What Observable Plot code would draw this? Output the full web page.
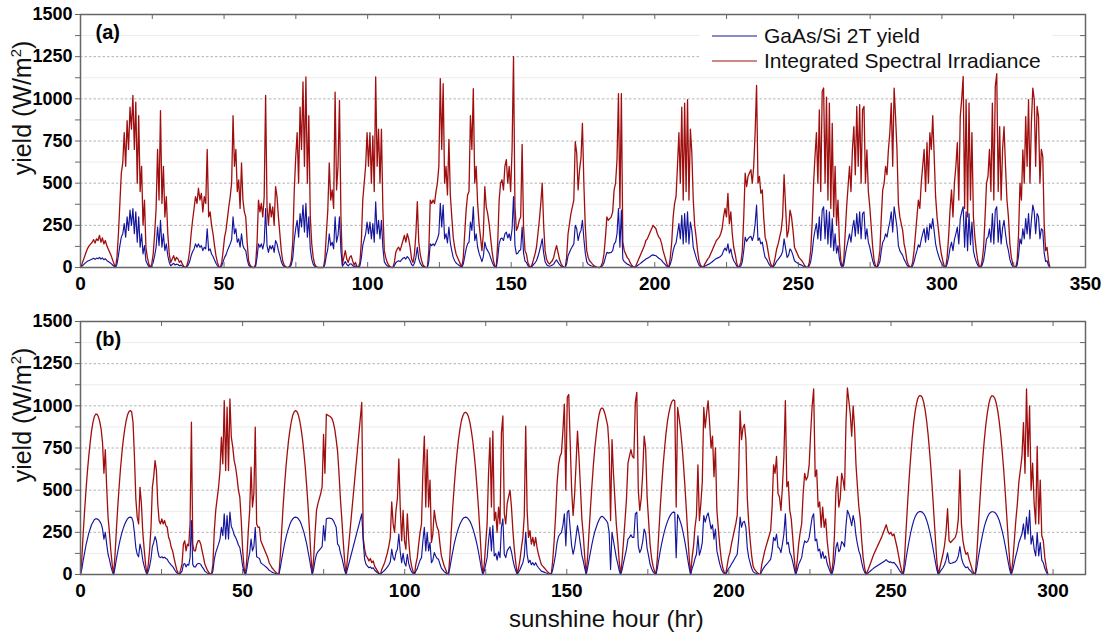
<!DOCTYPE html>
<html><head><meta charset="utf-8">
<script src="https://cdn.jsdelivr.net/npm/d3@7"></script>
<script src="https://cdn.jsdelivr.net/npm/@observablehq/plot@0.6"></script>
<style>
html,body{margin:0;padding:0;background:#fff;}
#chart{width:1107px;height:635px;overflow:hidden;background:#fff;}
#chart svg{display:block;}
</style></head><body><div id="chart"></div>
<script>
// ---------- data ----------
const seriesNames = ["GaAs/Si 2T yield", "Integrated Spectral Irradiance"];
const yTicks = [0, 250, 500, 750, 1000, 1250, 1500];
const yMinor = [125, 375, 625, 875, 1125, 1375];
const xTicksA = [0, 50, 100, 150, 200, 250, 300, 350];
const xTicksB = [0, 50, 100, 150, 200, 250, 300];

// sunrise/sunset boundaries (sunshine hour) of each day, panel (a)
const dayBoundsA = [0, 12.2, 24.3, 36.5, 48.7, 60.5, 72.4, 84.6, 96.8, 108.8, 120.8, 132.8, 144.8, 156.8, 168.8, 180.8, 192.9, 204.9, 216.9, 229.0, 240.9, 253.3, 265.3, 277.4, 289.3, 301.3, 313.5, 325.7, 337.6];
// 24 samples per day, panel (a): Integrated Spectral Irradiance
const irrA = [
0,20,45,70,95,115,130,140,150,165,145,170,160,190,150,175,140,160,130,110,90,70,45,20,
0,60,200,380,560,620,800,600,870,700,950,820,1020,700,980,500,900,450,600,250,400,120,60,20,
0,20,80,200,350,700,400,930,380,600,300,420,200,80,30,50,70,40,60,50,30,40,20,5,
0,10,40,100,200,280,350,420,380,470,400,440,330,420,380,700,300,330,250,200,130,70,30,5,
0,30,100,180,220,290,360,420,500,900,600,700,450,520,350,620,400,330,300,150,40,15,5,0,
0,20,150,400,330,380,300,420,1020,360,250,380,300,360,250,480,420,300,200,100,40,15,5,0,
0,10,40,150,450,650,800,500,950,700,1100,600,1130,500,900,300,140,60,20,5,0,0,0,0,
0,50,200,340,620,400,460,350,1040,460,600,990,300,20,60,100,50,30,60,70,40,15,30,5,
0,30,150,400,500,600,800,600,800,500,780,450,1130,600,820,500,820,350,100,60,30,15,5,0,
0,30,90,110,120,100,130,160,190,150,200,170,120,50,30,80,200,390,150,80,40,15,5,0,
0,100,400,380,400,380,450,500,600,1120,700,1090,500,600,430,760,430,300,180,120,80,60,40,20,
0,60,200,340,430,450,900,700,1060,500,600,380,260,180,100,200,480,360,320,260,180,100,40,10,
0,150,400,500,520,460,600,640,500,600,450,700,1250,360,220,240,280,300,730,240,100,80,30,10,
0,20,50,80,120,200,280,380,500,250,100,50,30,20,30,40,60,100,130,90,50,25,10,3,
0,60,200,260,320,360,400,746,680,460,580,650,855,500,240,100,60,40,30,20,12,6,2,0,
0,10,30,80,180,300,280,290,300,330,460,500,640,1030,350,1030,150,100,80,60,50,30,15,5,
0,10,30,50,70,90,110,130,160,170,190,210,230,250,240,230,200,180,170,140,100,70,40,12,
0,60,150,300,380,420,600,800,500,950,400,975,450,995,400,820,680,400,250,180,100,40,15,5,
0,20,35,50,60,80,100,120,140,160,170,180,200,230,300,350,300,440,260,330,200,120,80,30,
0,10,30,100,300,560,480,540,560,580,500,600,800,1080,500,540,440,460,300,180,150,100,50,20,
0,20,60,110,140,180,220,300,550,360,180,220,340,300,220,120,100,80,60,50,40,25,10,3,
0,30,100,260,500,660,800,500,935,450,1044,1064,500,1010,400,975,350,855,300,600,250,400,150,40,
0,40,200,360,480,600,450,700,835,550,955,600,965,500,935,955,500,697,450,360,240,120,40,10,
0,40,100,300,460,500,600,550,700,800,975,600,1064,895,700,380,300,260,220,140,100,40,15,5,
0,30,100,200,300,400,350,500,600,700,450,740,500,800,700,900,660,420,300,220,140,80,40,10,
0,60,180,340,460,300,500,600,740,400,895,1000,1133,350,995,300,975,400,800,300,180,100,40,10,
0,40,120,300,500,540,700,450,975,400,1074,1149,450,835,400,700,835,600,400,300,140,60,20,5,
0,40,200,500,400,697,500,895,600,995,500,860,1064,995,600,955,895,500,700,657,250,100,120,40,
0];
// panel (a): GaAs/Si 2T yield
const yieldA = [
0,8,16,24,32,38,42,46,50,55,48,56,52,60,50,57,46,52,42,36,30,23,15,7,
0,20,70,130,180,200,260,180,300,220,340,250,350,200,330,150,300,120,200,80,130,40,20,7,
0,8,30,70,120,240,130,280,120,200,100,140,70,30,10,18,25,15,20,18,10,14,8,2,
0,4,15,35,70,95,110,140,120,140,120,130,100,120,110,230,100,110,80,65,45,25,10,2,
0,10,35,60,75,100,120,140,165,300,200,230,150,170,120,200,130,110,100,50,15,5,2,0,
0,8,60,140,120,140,110,150,350,130,90,130,110,130,90,160,140,100,70,35,15,5,2,0,
0,4,15,55,160,230,280,180,320,240,370,210,380,180,300,110,50,20,7,2,0,0,0,0,
0,18,70,110,200,130,150,110,300,150,190,300,100,8,20,35,18,10,20,22,12,5,10,2,
0,10,55,130,165,200,270,200,270,170,260,150,390,200,280,170,280,120,35,20,10,5,2,0,
0,10,28,36,40,35,45,55,60,50,65,55,40,18,10,25,60,120,50,26,12,5,2,0,
0,35,140,130,140,130,150,170,200,380,240,370,170,200,145,240,145,100,60,40,27,20,13,7,
0,20,65,110,140,150,270,220,360,160,200,120,85,60,35,65,150,115,100,85,60,35,14,4,
0,55,140,170,175,160,200,210,175,200,160,230,420,130,80,85,100,105,240,85,38,30,12,4,
0,7,18,28,40,65,95,130,170,85,35,18,10,7,10,14,20,35,45,30,18,9,4,1,
0,22,70,90,110,125,140,250,230,160,200,220,280,170,85,35,20,14,10,7,4,2,1,0,
0,4,10,28,60,90,85,88,90,100,140,150,200,350,120,340,50,35,28,20,17,10,5,2,
0,4,10,17,23,30,37,43,50,55,60,65,72,75,72,70,62,55,50,42,30,22,12,4,
0,20,50,100,130,145,200,260,170,310,140,320,150,330,140,270,220,120,90,60,35,14,5,2,
0,7,12,17,20,27,33,40,47,53,57,60,67,77,100,115,100,140,85,110,65,40,27,10,
0,4,10,35,100,180,155,170,180,185,160,190,260,370,160,175,140,150,100,60,50,33,17,7,
0,7,20,38,48,60,72,95,170,115,60,72,110,97,72,40,33,27,20,17,13,8,3,1,
0,10,35,90,170,220,260,170,300,160,340,360,170,340,140,330,120,290,100,200,85,130,50,14,
0,14,70,120,160,200,150,230,280,185,320,200,330,170,320,330,170,230,150,120,80,40,14,3,
0,14,35,100,150,165,200,180,230,270,330,210,360,300,240,130,100,85,72,48,33,14,5,2,
0,10,35,70,100,135,120,165,200,230,150,240,165,260,230,290,215,140,100,72,46,26,13,3,
0,20,60,115,150,100,165,200,240,140,290,330,360,120,330,100,320,135,270,100,60,33,14,3,
0,14,42,100,170,180,230,150,320,140,340,360,150,280,140,235,280,200,135,100,48,20,7,2,
0,14,70,170,140,230,170,290,200,320,170,280,370,330,200,320,300,170,230,220,85,35,40,12,
0];

// panel (b)
const dayBoundsB = [0, 10.2, 20.5, 30.5, 40.4, 50.9, 61.2, 71.5, 81.9, 92.5, 103.0, 113.5, 124.1, 134.7, 145.2, 156.0, 166.6, 177.5, 188.2, 199.0, 209.7, 220.6, 231.7, 242.3, 253.8, 264.6, 276.0, 287.1, 298.4];
const irrB = [
0,100,250,380,500,610,700,780,850,900,935,950,950,935,905,860,780,600,740,517,340,250,142,60,
0,110,260,400,520,630,720,800,860,910,945,965,972,965,900,700,450,340,300,517,420,250,150,60,
0,60,150,280,517,580,675,616,419,320,300,330,300,320,290,280,221,200,160,140,100,63,30,10,
0,30,63,180,200,140,180,170,300,903,180,140,140,180,200,200,180,140,103,63,43,24,12,5,
0,60,260,380,450,517,616,814,656,1031,616,992,616,1041,814,755,675,636,577,500,458,320,142,40,
0,100,260,380,636,400,480,873,300,280,280,200,180,160,140,120,100,70,55,40,30,20,12,5,
0,110,260,400,520,630,720,800,860,910,945,965,972,965,945,910,860,800,720,630,520,400,260,110,
0,100,250,380,420,450,480,520,830,600,950,945,940,935,925,900,860,800,730,600,450,330,200,80,
0,null,null,null,null,null,null,null,null,null,null,1020,220,150,110,100,80,95,70,80,50,35,20,8,
0,30,50,70,100,130,170,220,430,300,250,380,450,685,400,200,380,200,150,360,200,100,50,20,
0,60,100,180,250,300,620,820,400,740,400,560,190,240,380,320,280,260,180,110,80,50,30,10,
0,110,260,400,520,630,720,800,860,910,940,958,962,955,935,900,850,790,710,620,510,390,250,100,
0,60,180,300,600,810,400,850,320,370,250,400,300,840,940,360,300,420,460,500,400,260,150,70,
0,40,90,160,220,350,880,380,220,260,180,220,170,220,160,120,90,60,50,40,30,20,12,5,
0,80,200,350,540,650,700,720,850,1010,500,1050,1067,780,500,350,470,650,850,700,520,330,230,100,
0,110,260,400,530,650,750,830,900,950,980,988,980,955,920,880,750,320,800,600,450,300,200,80,
0,80,200,320,450,660,700,740,700,690,1020,1080,500,380,450,600,820,750,460,320,180,100,50,20,
0,100,250,400,530,650,750,840,910,960,1000,1025,1035,1030,400,990,930,860,770,660,530,390,240,100,
0,100,170,280,350,650,320,420,550,990,870,960,1030,900,750,820,580,750,380,270,170,90,40,15,
0,50,100,130,180,220,260,300,350,600,970,800,870,890,800,450,300,200,110,50,30,20,10,4,
0,60,100,140,170,200,230,260,400,650,600,700,480,460,380,520,700,1030,520,550,380,330,220,100,
0,80,180,250,300,480,600,560,580,650,840,1000,1100,580,620,400,430,280,400,280,330,200,120,50,
0,80,240,500,580,400,450,600,560,500,900,1106,1030,950,820,1000,870,650,520,400,330,200,100,40,
0,20,45,70,95,120,140,160,180,200,220,245,270,295,260,240,250,230,240,200,160,110,60,20,
0,120,280,430,570,690,800,890,960,1010,1045,1060,1060,1050,1020,975,910,830,730,620,490,350,210,80,
0,40,80,120,170,250,390,200,190,200,210,220,250,330,620,300,200,150,120,130,90,60,30,10,
0,115,275,425,565,690,795,885,955,1010,1045,1060,1058,1045,1015,970,905,825,725,615,485,345,205,75,
0,80,200,320,420,550,620,700,900,600,1100,700,1000,500,660,420,300,760,300,560,230,200,100,40,
0];
const yieldB = [
0,35,85,130,175,210,245,270,295,310,325,330,330,325,315,300,270,210,250,180,120,90,50,20,
0,38,90,135,178,215,248,275,298,315,330,338,340,338,315,245,160,120,105,180,145,85,50,20,
0,20,50,95,165,190,225,200,140,105,100,105,98,103,95,90,75,66,55,48,35,22,11,4,
0,10,20,60,65,45,60,55,100,320,60,45,45,60,65,65,60,45,35,20,14,8,4,2,
0,20,90,130,155,180,210,280,230,360,210,350,210,370,285,265,235,220,200,175,160,110,50,14,
0,35,90,130,210,140,165,280,105,100,95,70,63,57,50,43,35,25,20,14,10,7,4,2,
0,40,90,135,180,215,250,275,300,318,330,338,340,338,330,318,300,275,250,215,180,135,90,40,
0,35,85,120,135,145,155,165,290,200,330,333,335,333,330,320,300,280,180,170,130,100,65,25,
0,null,null,null,null,null,null,null,null,null,null,360,200,90,60,50,40,45,35,40,25,18,10,4,
0,10,17,25,35,45,58,75,150,100,85,130,150,240,135,70,125,70,50,120,65,35,17,7,
0,20,35,60,85,100,200,280,140,250,140,190,70,85,130,110,95,90,62,38,28,17,10,3,
0,40,90,135,180,215,248,275,298,316,330,338,340,337,328,315,297,273,245,212,176,132,85,35,
0,20,60,100,200,280,140,290,110,125,85,135,100,280,330,120,100,140,155,165,135,88,50,23,
0,14,30,50,70,110,250,120,70,85,58,70,55,70,52,40,30,20,17,14,10,7,4,2,
0,28,70,120,190,225,240,250,290,360,170,370,380,270,170,120,160,225,290,240,180,115,80,35,
0,40,90,135,180,220,255,280,305,325,340,345,340,330,320,305,250,30,250,200,150,100,65,25,
0,28,70,110,150,210,220,235,220,220,360,370,170,130,150,195,270,245,155,110,62,35,17,7,
0,38,90,140,185,225,260,290,315,335,352,364,370,368,100,355,335,310,280,240,195,145,90,38,
0,35,60,95,120,230,115,145,190,350,310,345,365,320,270,295,210,270,140,100,62,33,15,5,
0,17,35,45,62,75,90,105,120,210,340,280,310,315,280,155,100,68,37,17,10,7,3,1,
0,20,35,48,58,68,80,90,140,220,200,240,160,155,130,180,240,360,180,190,130,110,75,35,
0,25,60,80,100,160,200,190,195,220,280,340,360,200,210,140,150,95,135,95,110,65,40,17,
0,25,75,160,190,135,150,195,185,165,290,380,360,330,290,350,310,230,180,140,115,70,35,14,
0,6,14,22,30,38,44,50,56,62,68,74,80,88,78,72,75,68,72,60,48,33,18,6,
0,42,100,152,200,245,283,315,340,357,368,373,373,370,360,345,322,293,258,218,172,123,75,28,
0,14,28,40,58,85,128,70,65,68,72,75,85,110,165,100,68,50,40,45,30,20,10,3,
0,40,98,150,198,243,282,313,338,356,367,372,372,368,358,342,320,290,255,215,170,120,72,26,
0,28,70,110,145,190,215,240,300,210,340,240,380,180,230,150,110,250,110,190,85,70,35,14,
0];

// ---------- drawing ----------
const FONT = "'Liberation Sans', Arial, Helvetica, sans-serif";
const RED = "#a00f0f", BLUE = "#14149c";
const PER_DAY = 24;

function toRows(bounds, vals) {
  const n = bounds.length - 1, rows = [];
  vals.forEach((v, i) => {
    if (v == null) return;
    const d = Math.floor(i / PER_DAY), j = i % PER_DAY;
    const x = d >= n ? bounds[n] : bounds[d] + (bounds[d + 1] - bounds[d]) * j / PER_DAY;
    rows.push({x, v});
  });
  return rows;
}

function makePanel({bounds, irr, yld, xDomain, xTicks, height, marginTop, marginBottom, tag}) {
  const W = 1107, mL = 80, mR = 22;
  const pw = W - mL - mR, ph = height - marginTop - marginBottom;
  const yAll = [...yTicks, ...yMinor].sort((a, b) => a - b);
  const xIn = d3.range(xDomain[0], xDomain[1] + 0.001, 25);
  return Plot.plot({
    width: W, height, marginLeft: mL, marginRight: mR, marginTop, marginBottom,
    x: {domain: xDomain, label: null},
    y: {domain: [0, 1500], label: null},
    style: {fontFamily: FONT, background: "#fff", color: "#000", overflow: "visible"},
    marks: [
      Plot.ruleY(yMinor, {stroke: "#ececec", strokeWidth: 1}),
      Plot.ruleY(yTicks.filter(v => v > 0 && v < 1500), {stroke: "#b4b4b4", strokeWidth: 1, strokeDasharray: "2.5,2"}),
      Plot.line(toRows(bounds, irr), {x: "x", y: "v", stroke: RED, strokeWidth: 1.3}),
      Plot.line(toRows(bounds, yld), {x: "x", y: "v", stroke: BLUE, strokeWidth: 1.15}),
      Plot.tickY(yAll, {y: d => d, insetLeft: pw - 5, stroke: "#666"}),
      Plot.tickX(xIn, {x: d => d, insetBottom: ph - 5, stroke: "#666"}),
      Plot.tickX(xIn, {x: d => d, insetTop: ph - 5, stroke: "#666"}),
      Plot.axisY(yAll, {tickSize: 5, tickPadding: 3, tickFormat: d => yTicks.includes(d) ? String(d) : "",
        fontSize: 18, fontWeight: "bold", stroke: "#666", fill: "#000", label: null}),
      Plot.axisX(xTicks, {tickSize: 0, tickPadding: 9, tickFormat: d => String(d),
        fontSize: 19, fontWeight: "bold", fill: "#000", label: null}),
      Plot.frame({stroke: "#666", strokeWidth: 1.5}),
      Plot.text([tag], {text: d => d, frameAnchor: "top-left", dx: 15, dy: 10, lineAnchor: "top",
        textAnchor: "start", fontSize: 20, fontWeight: "bold", fill: "#000"})
    ]
  });
}

const svgA = makePanel({bounds: dayBoundsA, irr: irrA, yld: yieldA, xDomain: [0, 350], xTicks: xTicksA,
  height: 300, marginTop: 14, marginBottom: 33, tag: "(a)"});
const svgB = makePanel({bounds: dayBoundsB, irr: irrB, yld: yieldB, xDomain: [0, 310], xTicks: xTicksB,
  height: 335, marginTop: 21, marginBottom: 61, tag: "(b)"});
document.getElementById("chart").append(svgA, svgB);

function yLabel(svg, cy) {
  const t = d3.select(svg).append("text")
    .attr("transform", `translate(31,${cy}) rotate(-90)`)
    .attr("text-anchor", "middle").attr("font-family", FONT).attr("font-size", 25)
    .attr("font-weight", "normal").attr("fill", "#111");
  t.append("tspan").text("yield (W/m");
  t.append("tspan").attr("dy", -10).attr("font-size", 15).text("2");
  t.append("tspan").attr("dy", 10).text(")");
}
yLabel(svgA, 108);
yLabel(svgB, 115);

// legend (panel a)
const lg = d3.select(svgA).append("g").attr("font-family", FONT).attr("font-size", 21).attr("font-weight", "normal");
lg.append("rect").attr("x", 700).attr("y", 22).attr("width", 352).attr("height", 51).attr("fill", "#fff");
[[BLUE, seriesNames[0], 36], [RED, seriesNames[1], 61]].forEach(([c, s, y]) => {
  lg.append("line").attr("x1", 712).attr("x2", 757).attr("y1", y).attr("y2", y).attr("stroke", c).attr("stroke-width", 1.2);
  lg.append("text").attr("x", 764).attr("y", y).attr("dy", "0.35em").attr("fill", "#111").attr("text-anchor", "start").text(s);
});

// x axis title (panel b)
d3.select(svgB).append("text").attr("x", 509).attr("y", 327).attr("font-family", FONT)
  .attr("font-size", 24).attr("font-weight", "normal").attr("fill", "#111").attr("text-anchor", "start")
  .text("sunshine hour (hr)");
</script>
</body></html>
